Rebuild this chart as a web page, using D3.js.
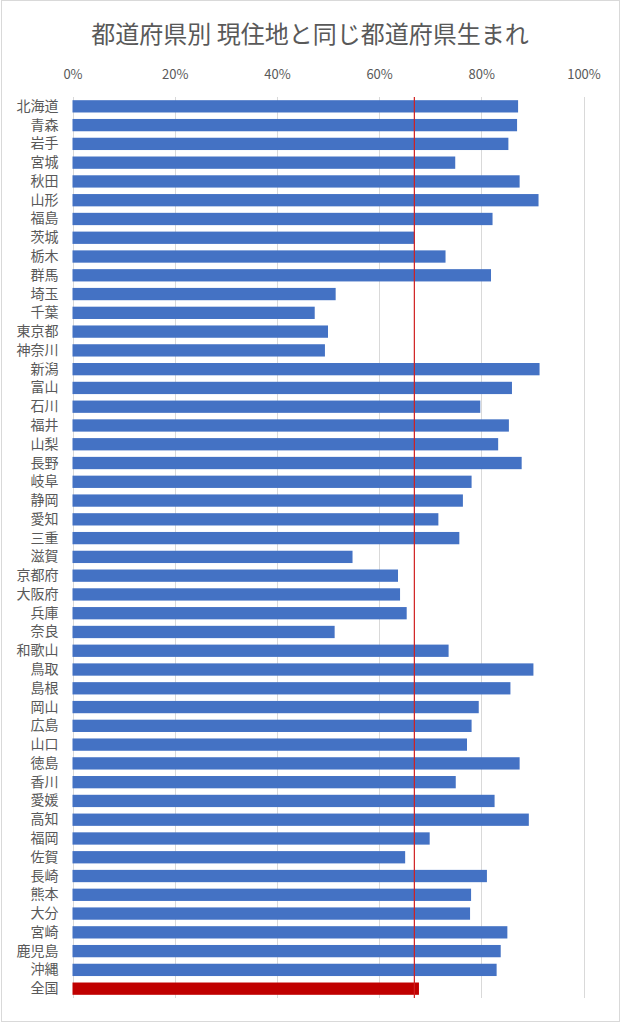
<!DOCTYPE html>
<html>
<head>
<meta charset="utf-8">
<script src="https://cdn.jsdelivr.net/npm/d3@7.9.0/dist/d3.min.js"></script>
<style>
  body { margin: 0; background: #fff; }
  text { font-family: "Noto Sans CJK JP", "Noto Sans", sans-serif; fill: #595959; }
</style>
</head>
<body>
<div id="chart"></div>
<script>
// prefecture names (top to bottom)
const prefectures = [
  '北海道','青森','岩手','宮城','秋田','山形','福島','茨城','栃木','群馬',
  '埼玉','千葉','東京都','神奈川','新潟','富山','石川','福井','山梨','長野',
  '岐阜','静岡','愛知','三重','滋賀','京都府','大阪府','兵庫','奈良','和歌山',
  '鳥取','島根','岡山','広島','山口','徳島','香川','愛媛','高知','福岡',
  '佐賀','長崎','熊本','大分','宮崎','鹿児島','沖縄','全国'
];
// share born in the same prefecture (%)
const shares = [
  87.2, 87.0, 85.3, 74.9, 87.5, 91.2, 82.2, 66.9, 73.0, 81.9,
  51.5, 47.4, 50.0, 49.4, 91.4, 86.0, 79.8, 85.4, 83.3, 87.9,
  78.1, 76.4, 71.6, 75.7, 54.8, 63.7, 64.1, 65.4, 51.3, 73.6,
  90.2, 85.7, 79.5, 78.1, 77.2, 87.5, 75.0, 82.6, 89.3, 69.9,
  65.1, 81.1, 78.0, 77.8, 85.1, 83.8, 83.0, 67.8
];
const xTicks = [0, 20, 40, 60, 80, 100];
const refLine = 66.9;   // red vertical reference line
const titleText = '都道府県別 現住地と同じ都道府県生まれ';

const width = 621;
const height = 1024;
const plot = { left: 72.5, right: 583.5, top: 97, bottom: 998 };

const svg = d3.select('#chart')
  .append('svg')
  .attr('width', width)
  .attr('height', height);

// chart border
svg.append('rect')
  .attr('x', 1.5).attr('y', 0.5)
  .attr('width', width - 3).attr('height', height - 3)
  .attr('fill', 'none')
  .attr('stroke', '#d9d9d9');

const xScale = d3.scaleLinear()
  .domain([0, 100])
  .range([plot.left, plot.right]);

const yScale = d3.scaleBand()
  .domain(prefectures)
  .range([plot.top, plot.bottom])
  .paddingInner(0.345)
  .paddingOuter(0.17);

// title
svg.append('text')
  .attr('x', 310)
  .attr('y', 43)
  .attr('text-anchor', 'middle')
  .style('font-size', '24px')
  .text(titleText);

// gridlines
svg.append('g')
  .selectAll('line')
  .data(xTicks)
  .join('line')
    .attr('x1', d => Math.round(xScale(d)) + 0.5)
    .attr('x2', d => Math.round(xScale(d)) + 0.5)
    .attr('y1', plot.top)
    .attr('y2', plot.bottom)
    .attr('stroke', '#d9d9d9');

// top axis labels
const xAxis = d3.axisTop(xScale)
  .tickValues(xTicks)
  .tickSize(0)
  .tickFormat(d => d + '%');

svg.append('g')
  .attr('transform', `translate(0, ${plot.top - 15})`)
  .call(xAxis)
  .call(g => g.select('.domain').remove())
  .call(g => g.selectAll('text')
    .attr('dy', 0)
    .style('font-size', '13px')
    .style('fill', '#595959'));

// category labels
const yAxis = d3.axisLeft(yScale).tickSize(0).tickPadding(14);
svg.append('g')
  .attr('transform', `translate(${plot.left}, 0)`)
  .call(yAxis)
  .call(g => g.select('.domain').remove())
  .call(g => g.selectAll('text')
    .style('font-size', '14px')
    .style('fill', '#595959'));

// bars
svg.append('g')
  .selectAll('rect')
  .data(prefectures)
  .join('rect')
    .attr('x', xScale(0))
    .attr('y', d => yScale(d))
    .attr('width', (d, i) => xScale(shares[i]) - xScale(0))
    .attr('height', yScale.bandwidth())
    .attr('fill', d => d === '全国' ? '#c00000' : '#4472c4');

// reference line
svg.append('line')
  .attr('x1', xScale(refLine))
  .attr('x2', xScale(refLine))
  .attr('y1', plot.top)
  .attr('y2', plot.bottom)
  .attr('stroke', '#d02020')
  .attr('stroke-width', 1.2);
</script>
</body>
</html>
